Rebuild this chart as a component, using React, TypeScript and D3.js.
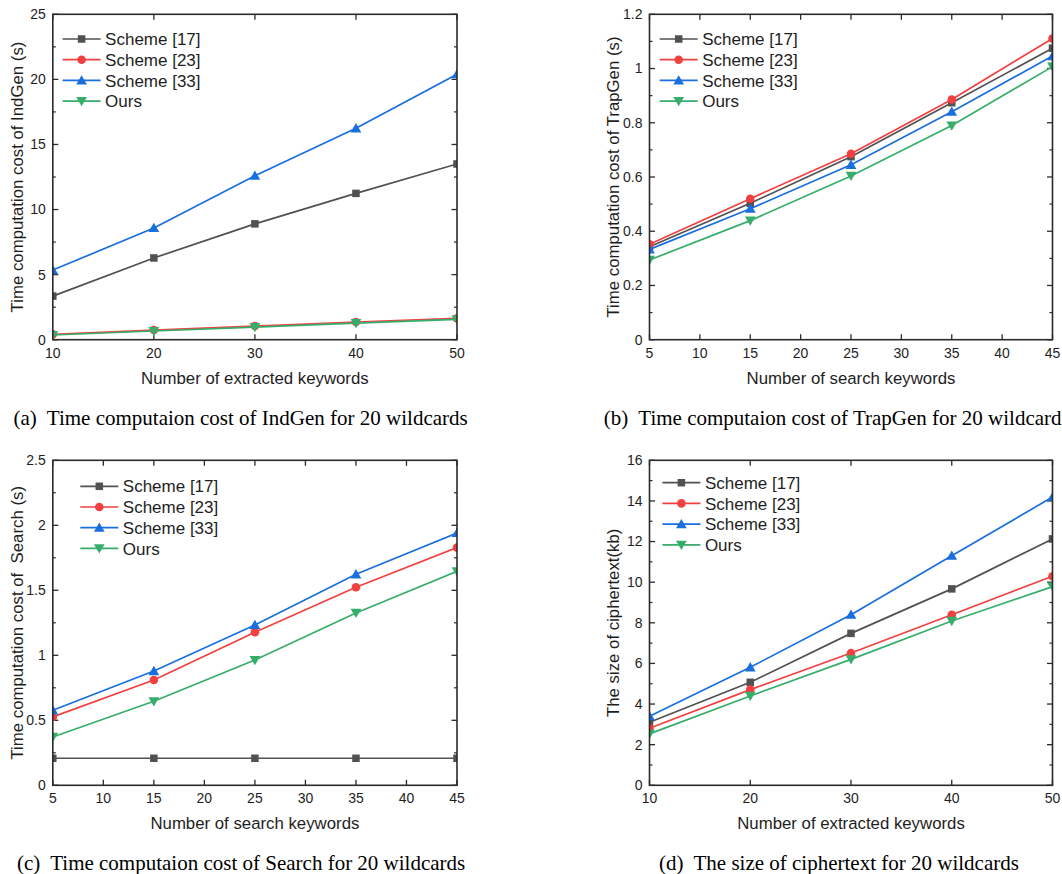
import React from "react";
import * as d3 from "d3";

const seriesNames = ["Scheme [17]", "Scheme [23]", "Scheme [33]", "Ours"];
const seriesColors = ["#515151", "#F14040", "#1A6FDF", "#37AD6B"];
const seriesMarkers = ["square", "circle", "triangle", "triangleDown"];

// Panel (a)
const xA = [10, 20, 30, 40, 50];
const a17 = [3.35, 6.28, 8.9, 11.24, 13.5];
const a23 = [0.41, 0.74, 1.05, 1.36, 1.64];
const a33 = [5.35, 8.58, 12.6, 16.24, 20.4];
const aOurs = [0.36, 0.67, 0.97, 1.28, 1.56];
const xTicksA = [10, 20, 30, 40, 50];
const yTicksA = [0, 5, 10, 15, 20, 25];

// Panel (b)
const xB = [5, 15, 25, 35, 45];
const b17 = [0.343, 0.503, 0.675, 0.874, 1.075];
const b23 = [0.352, 0.52, 0.686, 0.886, 1.111];
const b33 = [0.333, 0.483, 0.645, 0.841, 1.046];
const bOurs = [0.294, 0.439, 0.604, 0.79, 1.007];
const xTicksB = [5, 10, 15, 20, 25, 30, 35, 40, 45];
const yTicksB = [0, 0.2, 0.4, 0.6, 0.8, 1, 1.2];

// Panel (c)
const xC = [5, 15, 25, 35, 45];
const c17 = [0.208, 0.208, 0.208, 0.208, 0.208];
const c23 = [0.526, 0.81, 1.177, 1.523, 1.828];
const c33 = [0.577, 0.879, 1.233, 1.623, 1.941];
const cOurs = [0.372, 0.646, 0.964, 1.326, 1.646];
const xTicksC = [5, 10, 15, 20, 25, 30, 35, 40, 45];
const yTicksC = [0, 0.5, 1, 1.5, 2, 2.5];

// Panel (d)
const xD = [10, 20, 30, 40, 50];
const d17 = [3.1, 5.07, 7.48, 9.67, 12.13];
const d23 = [2.81, 4.71, 6.51, 8.4, 10.29];
const d33 = [3.4, 5.81, 8.4, 11.3, 14.19];
const dOurs = [2.53, 4.4, 6.2, 8.09, 9.78];
const xTicksD = [10, 20, 30, 40, 50];
const yTicksD = [0, 2, 4, 6, 8, 10, 12, 14, 16];

const panels = [
  {
    id: "a",
    box: { left: 52.8, right: 457, top: 14.3, bottom: 339.7 },
    xs: xA,
    series: [a17, a23, a33, aOurs],
    xTicks: xTicksA,
    yTicks: yTicksA,
    xLabel: "Number of extracted keywords",
    yLabel: "Time computation cost of IndGen (s)",
    caption: "Time computaion cost of IndGen for 20 wildcards",
    capLabel: "(a)",
    capX: 13.5,
    legend: { dx: 9.8, dy: 24.7 },
  },
  {
    id: "b",
    box: { left: 649.5, right: 1052.5, top: 14.3, bottom: 339.7 },
    xs: xB,
    series: [b17, b23, b33, bOurs],
    xTicks: xTicksB,
    yTicks: yTicksB,
    xLabel: "Number of search keywords",
    yLabel: "Time computation cost of TrapGen (s)",
    caption: "Time computaion cost of TrapGen for 20 wildcards",
    capLabel: "(b)",
    capX: 603.8,
    legend: { dx: 10.2, dy: 24.7 },
  },
  {
    id: "c",
    box: { left: 52.8, right: 457, top: 460.3, bottom: 785.3 },
    xs: xC,
    series: [c17, c23, c33, cOurs],
    xTicks: xTicksC,
    yTicks: yTicksC,
    xLabel: "Number of search keywords",
    yLabel: "Time computation cost of  Search (s)",
    caption: "Time computaion cost of Search for 20 wildcards",
    capLabel: "(c)",
    capX: 16.9,
    legend: { dx: 27.5, dy: 26 },
  },
  {
    id: "d",
    box: { left: 649.5, right: 1052.5, top: 460.3, bottom: 785.3 },
    xs: xD,
    series: [d17, d23, d33, dOurs],
    xTicks: xTicksD,
    yTicks: yTicksD,
    xLabel: "Number of extracted keywords",
    yLabel: "The size of ciphertext(kb)",
    caption: "The size of ciphertext for 20 wildcards",
    capLabel: "(d)",
    capX: 659,
    legend: { dx: 12.9, dy: 22.4 },
  },
];

const SANS = "'Liberation Sans', Arial, sans-serif";
const SERIF = "'Liberation Serif', 'Times New Roman', serif";
const TXT = "#1e1e1e";
const AXIS = "#2a2a2a";

function Marker({ type, x, y, color }: { type: string; x: number; y: number; color: string }) {
  if (type === "square") {
    const s = 7.5;
    return <rect x={x - s / 2} y={y - s / 2} width={s} height={s} fill={color} />;
  }
  if (type === "circle") {
    return <circle cx={x} cy={y} r={4.3} fill={color} />;
  }
  if (type === "triangle") {
    const p = d3.symbol().type(d3.symbolTriangle).size(50)();
    return <path d={p || ""} transform={`translate(${x},${y + 1})`} fill={color} />;
  }
  const p = d3.symbol().type(d3.symbolTriangle).size(50)();
  return <path d={p || ""} transform={`translate(${x},${y - 1}) rotate(180)`} fill={color} />;
}

function fmt(v: number) {
  return String(+v.toFixed(2));
}

function Panel({ p }: { p: (typeof panels)[number] }) {
  const { left, right, top, bottom } = p.box;
  const xMin = p.xTicks[0];
  const xMax = p.xTicks[p.xTicks.length - 1];
  const yMax = p.yTicks[p.yTicks.length - 1];
  const x = d3.scaleLinear().domain([xMin, xMax]).range([left, right]);
  const y = d3.scaleLinear().domain([0, yMax]).range([bottom, top]);
  const step = p.yTicks[1] - p.yTicks[0];
  const minor: number[] = [];
  for (let i = 0; i < p.yTicks.length - 1; i++) minor.push(p.yTicks[i] + step / 2);
  const line = d3
    .line<number>()
    .x((_, i) => x(p.xs[i]))
    .y((d) => y(d));
  const clipId = `clip-${p.id}`;
  const majorLen = 5.5;
  const minorLen = 3;
  const legX = left + p.legend.dx;
  const legY = top + p.legend.dy;
  const rowH = 20.7;
  const capY = bottom + 85;
  return (
    <g>
      <defs>
        <clipPath id={clipId}>
          <rect x={left} y={top} width={right - left} height={bottom - top} />
        </clipPath>
      </defs>
      {/* ticks */}
      {p.xTicks.map((t) => (
        <g key={`xt${t}`} stroke={AXIS} strokeWidth={1.3}>
          <line x1={x(t)} x2={x(t)} y1={bottom} y2={bottom - majorLen} />
          <line x1={x(t)} x2={x(t)} y1={top} y2={top + majorLen} />
        </g>
      ))}
      {p.yTicks.map((t) => (
        <g key={`yt${t}`} stroke={AXIS} strokeWidth={1.3}>
          <line x1={left} x2={left + majorLen} y1={y(t)} y2={y(t)} />
          <line x1={right} x2={right - majorLen} y1={y(t)} y2={y(t)} />
        </g>
      ))}
      {minor.map((t) => (
        <g key={`ym${t}`} stroke={AXIS} strokeWidth={1.2}>
          <line x1={left} x2={left + minorLen} y1={y(t)} y2={y(t)} />
          <line x1={right} x2={right - minorLen} y1={y(t)} y2={y(t)} />
        </g>
      ))}
      {/* data */}
      <g clipPath={`url(#${clipId})`}>
        {p.series.map((s, si) => (
          <g key={`s${si}`}>
            <path d={line(s) || ""} fill="none" stroke={seriesColors[si]} strokeWidth={1.7} />
            {s.map((v, i) => (
              <Marker key={i} type={seriesMarkers[si]} x={x(p.xs[i])} y={y(v)} color={seriesColors[si]} />
            ))}
          </g>
        ))}
      </g>
      {/* frame */}
      <rect x={left} y={top} width={right - left} height={bottom - top} fill="none" stroke={AXIS} strokeWidth={1.6} />
      {/* tick labels */}
      {p.xTicks.map((t) => (
        <text key={`xl${t}`} x={x(t)} y={bottom + 18} textAnchor="middle" fontFamily={SANS} fontSize={14} fill={TXT}>
          {fmt(t)}
        </text>
      ))}
      {p.yTicks.map((t) => (
        <text key={`yl${t}`} x={left - 7} y={y(t)} dy="0.35em" textAnchor="end" fontFamily={SANS} fontSize={14} fill={TXT}>
          {fmt(t)}
        </text>
      ))}
      {/* axis titles */}
      <text x={(left + right) / 2} y={bottom + 44} textAnchor="middle" fontFamily={SANS} fontSize={16.8} fill={TXT}>
        {p.xLabel}
      </text>
      <text
        transform={`translate(${left - 36},${(top + bottom) / 2}) rotate(-90)`}
        textAnchor="middle"
        dy="0.35em"
        fontFamily={SANS}
        fontSize={16.8}
        fill={TXT}
        style={{ whiteSpace: "pre" }}
      >
        {p.yLabel}
      </text>
      {/* legend */}
      {seriesNames.map((n, i) => (
        <g key={`lg${i}`}>
          <line x1={legX} x2={legX + 38} y1={legY + i * rowH} y2={legY + i * rowH} stroke={seriesColors[i]} strokeWidth={1.7} />
          <Marker type={seriesMarkers[i]} x={legX + 19} y={legY + i * rowH} color={seriesColors[i]} />
          <text x={legX + 42.5} y={legY + i * rowH} dy="0.36em" fontFamily={SANS} fontSize={17} fill={TXT}>
            {n}
          </text>
        </g>
      ))}
      {/* caption */}
      <text x={p.capX} y={capY} fontFamily={SERIF} fontSize={21} fill="#000">
        <tspan>{p.capLabel}</tspan>
        <tspan dx={10}>{p.caption}</tspan>
      </text>
    </g>
  );
}

export default function App() {
  return (
    <svg
      width={1062}
      height={874}
      viewBox="0 0 1062 874"
      style={{ position: "absolute", left: 0, top: 0, background: "#fff" }}
    >
      <rect x={0} y={0} width={1062} height={874} fill="#fff" />
      {panels.map((p) => (
        <Panel key={p.id} p={p} />
      ))}
    </svg>
  );
}
